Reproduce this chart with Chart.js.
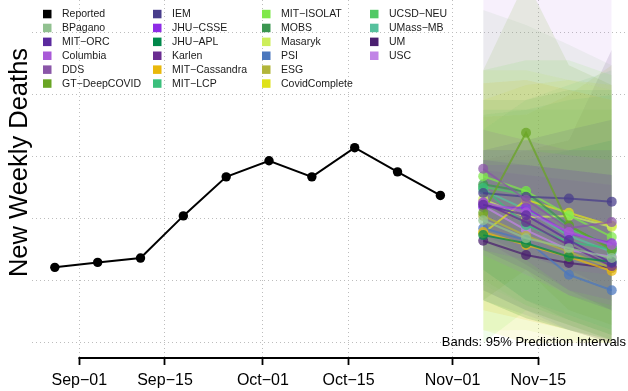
<!DOCTYPE html>
<html>
<head>
<meta charset="utf-8">
<script src="https://cdn.jsdelivr.net/npm/chart.js@4.4.1/dist/chart.umd.min.js"></script>
<style>
  body { margin: 0; background: #fff; }
  #wrap { width: 628px; height: 391px; }
</style>
</head>
<body>
<div id="wrap"><canvas id="deaths-chart" width="628" height="391"></canvas></div>
<script>
const reportedDates = ["2020-08-28", "2020-09-04", "2020-09-11", "2020-09-18", "2020-09-25",
                       "2020-10-02", "2020-10-09", "2020-10-16", "2020-10-23", "2020-10-30"];
const reportedDeaths = [122, 130, 137, 205, 268, 294, 268, 315, 276, 238];

const forecastDates = ["2020-11-06", "2020-11-13", "2020-11-20", "2020-11-27"];

const modelNames = ["BPagano", "MIT-ORC", "Columbia", "DDS", "GT-DeepCOVID",
                    "IEM", "JHU-CSSE", "JHU-APL", "Karlen", "MIT-Cassandra", "MIT-LCP",
                    "MIT-ISOLAT", "MOBS", "Masaryk", "PSI", "ESG", "CovidComplete",
                    "UCSD-NEU", "UMass-MB", "UM", "USC"];
const modelColors = ["#91c190", "#5b2a9e", "#a95ad8", "#8a56a8", "#69a524",
                     "#483d8b", "#8e2be6", "#00884a", "#6a2c91", "#e9b80b", "#3bbf7c",
                     "#7fe84a", "#3b9650", "#cdee5a", "#4b77bd", "#b2b53a", "#dfe21a",
                     "#52c965", "#56c19d", "#4a1f6f", "#c184e6"];

// point forecasts, one row per model
const modelPoint = [
  [198, 169, 153, 137], [223, 206, 166, 129], [227, 211, 179, 158], [281, 231, 185, 195],
  [210, 339, 190, 150], [242, 236, 233, 228], [219, 218, 177, 161], [174, 161, 139, 131],
  [226, 195, 158, 124], [179, 158, 139, 116], [250, 190, 163, 152], [269, 245, 206, 171],
  [256, 244, 189, 153], [232, 203, 205, 187], [185, 166, 110, 85], [205, 173, 147, 121],
  [177, 231, 210, 189], [252, 239, 185, 156], [247, 215, 173, 147], [165, 142, 129, 121],
  [221, 182, 150, 139]
];
// 95% prediction intervals
const modelLower = [
  [69, 45, 21, 0], [150, 118, 77, 53], [142, 110, 77, 61], [198, 142, 118, 110],
  [69, 118, 53, 29], [174, 142, 118, 85], [150, 134, 85, 69], [69, 40, 21, 5],
  [166, 126, 85, 53], [53, 37, 21, 0], [118, 69, 45, 21], [0, 53, 29, 5],
  [118, 69, 37, 13], [20, 21, 5, 0], [85, 53, 21, 0], [69, 40, 21, 5],
  [21, 0, 0, 0], [102, 61, 37, 13], [94, 61, 37, 13], [85, 53, 29, 5],
  [69, 45, 21, 0]
];
const modelUpper = [
  [537, 513, 481, 448], [295, 287, 279, 271], [311, 311, 303, 295], [344, 327, 311, 311],
  [440, 585, 448, 416], [311, 327, 344, 360], [287, 287, 279, 271], [311, 311, 311, 327],
  [279, 271, 263, 255], [419, 424, 408, 392], [376, 376, 392, 400], [440, 456, 456, 432],
  [392, 392, 408, 408], [440, 440, 424, 408], [295, 295, 311, 311], [365, 368, 400, 448],
  [392, 416, 424, 416], [368, 376, 376, 376], [344, 392, 416, 440], [295, 311, 327, 473],
  [618, 618, 625, 630]
];

const xTickDates = ["2020-09-01", "2020-09-15", "2020-10-01", "2020-10-15", "2020-11-01", "2020-11-15"];
const xTickLabels = ["Sep−01", "Sep−15", "Oct−01", "Oct−15", "Nov−01", "Nov−15"];
const yGridValues = [0, 100, 200, 300, 400, 500];

const FONT = "'Liberation Sans', Arial, Helvetica, sans-serif";

function dayOf(s) {
  return (Date.parse(s) - Date.parse("2020-09-01")) / 86400000;
}
const xTickDays = xTickDates.map(dayOf);
const fcDays = forecastDates.map(dayOf);

function pts(days, vals) {
  return vals.map((v, i) => ({x: days[i], y: v}));
}

const datasets = [];
// bands first (drawn underneath)
modelNames.forEach((name, i) => {
  datasets.push({
    label: name + " upper",
    data: pts(fcDays, modelUpper[i]),
    borderWidth: 0,
    pointRadius: 0,
    backgroundColor: modelColors[i] + "1f",
    fill: "+1",
    order: 30
  });
  datasets.push({
    label: name + " lower",
    data: pts(fcDays, modelLower[i]),
    borderWidth: 0,
    pointRadius: 0,
    fill: false,
    order: 30
  });
});
modelNames.forEach((name, i) => {
  datasets.push({
    label: name,
    data: pts(fcDays, modelPoint[i]),
    borderColor: modelColors[i] + "bb",
    borderWidth: 2,
    pointRadius: 5,
    pointBorderWidth: 0,
    pointBackgroundColor: modelColors[i] + "bb",
    fill: false,
    order: 10
  });
});
datasets.push({
  label: "Reported",
  data: pts(reportedDates.map(dayOf), reportedDeaths),
  borderColor: "#000",
  borderWidth: 2,
  pointRadius: 4.7,
  pointBorderWidth: 0,
  pointBackgroundColor: "#000",
  fill: false,
  order: 1
});

const overlay = {
  id: "overlay",
  afterDraw(chart) {
    const {ctx, chartArea, scales: {x}} = chart;
    ctx.save();

    // x axis line between first and last tick
    ctx.strokeStyle = "#000";
    ctx.lineWidth = 1.8;
    ctx.beginPath();
    ctx.moveTo(x.getPixelForValue(xTickDays[0]) - 0.9, chartArea.bottom);
    ctx.lineTo(x.getPixelForValue(xTickDays[xTickDays.length - 1]) + 0.9, chartArea.bottom);
    ctx.stroke();

    // y title
    ctx.save();
    ctx.translate(27, 162.5);
    ctx.rotate(-Math.PI / 2);
    ctx.font = "25.5px " + FONT;
    ctx.fillStyle = "#000";
    ctx.textAlign = "center";
    ctx.textBaseline = "alphabetic";
    ctx.fillText("New Weekly Deaths", 0, 0);
    ctx.restore();

    // legend, 6 rows per column
    const names = ["Reported"].concat(modelNames);
    const cols = ["#000000"].concat(modelColors);
    const colX = [43, 153, 262, 370];
    ctx.font = "10.5px " + FONT;
    ctx.textAlign = "left";
    ctx.textBaseline = "middle";
    names.forEach((n, i) => {
      const c = Math.floor(i / 6), r = i % 6;
      const cy = 14 + r * 13.9;
      ctx.fillStyle = cols[i];
      ctx.fillRect(colX[c], cy - 4.2, 8.5, 8.5);
      ctx.fillStyle = "#1a1a1a";
      ctx.fillText(n.replace("-", "−"), colX[c] + 19, cy + 0.5);
    });

    // band note
    ctx.font = "13px " + FONT;
    ctx.textAlign = "right";
    ctx.textBaseline = "alphabetic";
    ctx.fillStyle = "#000";
    ctx.fillText("Bands: 95% Prediction Intervals", 626, 346);

    ctx.restore();
  }
};

new Chart(document.getElementById("deaths-chart"), {
  type: "line",
  data: {datasets: datasets},
  options: {
    responsive: false,
    animation: false,
    events: [],
    layout: {padding: 0, autoPadding: false},
    plugins: {
      legend: {display: false},
      tooltip: {enabled: false}
    },
    elements: {line: {tension: 0}},
    scales: {
      x: {
        type: "linear",
        min: -7.73,
        max: 89.66,
        afterFit(s) { s.height = 33; },
        afterBuildTicks(s) { s.ticks = xTickDays.map(v => ({value: v})); },
        ticks: {
          callback: (v, i) => xTickLabels[i],
          font: {size: 16, family: FONT},
          color: "#000",
          padding: 6,
          maxRotation: 0,
          autoSkip: false
        },
        grid: {
          color: "#bdbdbd",
          lineWidth: 1,
          drawTicks: true,
          tickLength: 7,
          tickColor: "#000",
          tickWidth: 1.8,
          tickBorderDash: []
        },
        border: {display: false, dash: [1, 3]}
      },
      y: {
        type: "linear",
        min: -24.2,
        max: 553.2,
        afterFit(s) { s.width = 32; },
        afterBuildTicks(s) { s.ticks = yGridValues.map(v => ({value: v})); },
        ticks: {display: false},
        grid: {color: "#bdbdbd", lineWidth: 1, drawTicks: false},
        border: {display: false, dash: [1, 3]}
      }
    }
  },
  plugins: [overlay]
});
</script>
</body>
</html>
